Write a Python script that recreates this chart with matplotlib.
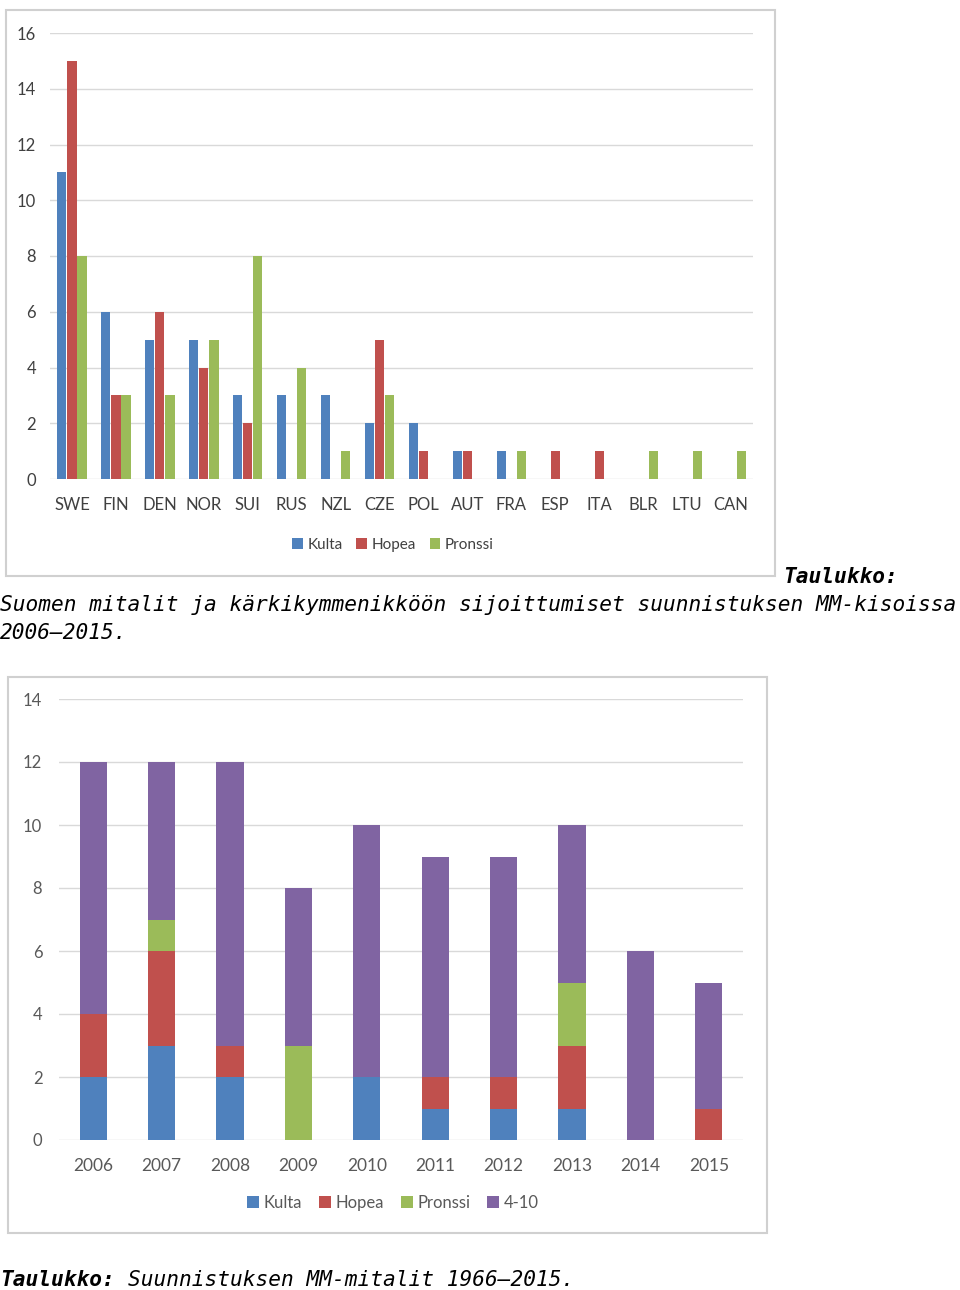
import matplotlib
matplotlib.use("Agg")
from matplotlib import pyplot as plt
from matplotlib.patches import Rectangle
import numpy as np

# chart 1: medals per country
countries = ["SWE", "FIN", "DEN", "NOR", "SUI", "RUS", "NZL", "CZE",
             "POL", "AUT", "FRA", "ESP", "ITA", "BLR", "LTU", "CAN"]
kulta = [11, 6, 5, 5, 3, 3, 3, 2, 2, 1, 1, 0, 0, 0, 0, 0]
hopea = [15, 3, 6, 4, 2, 0, 0, 5, 1, 1, 0, 1, 1, 0, 0, 0]
pronssi = [8, 3, 3, 5, 8, 4, 1, 3, 0, 0, 1, 0, 0, 1, 1, 1]

# chart 2: Finland per year
years = ["2006", "2007", "2008", "2009", "2010", "2011", "2012", "2013", "2014", "2015"]
fin_kulta = [2, 3, 2, 0, 2, 1, 1, 1, 0, 0]
fin_hopea = [2, 3, 1, 0, 0, 1, 1, 2, 0, 1]
fin_pronssi = [0, 1, 0, 3, 0, 0, 0, 2, 0, 0]
fin_top10 = [8, 5, 9, 5, 8, 7, 7, 5, 6, 4]

BLUE = "#4F81BD"
RED = "#C0504D"
GREEN = "#9BBB59"
PURPLE = "#8064A2"
GRID = "#D9D9D9"
TXT = "#595959"

W, H = 960, 1290
fig = plt.figure(figsize=(W / 100, H / 100), dpi=100)

def px_axes(x0, y0, x1, y1):
    # pixel box (top-left origin) -> figure axes
    return fig.add_axes([x0 / W, 1 - y1 / H, (x1 - x0) / W, (y1 - y0) / H])

def frame(x0, y0, x1, y1):
    fig.patches.append(Rectangle((x0 / W, 1 - y1 / H), (x1 - x0) / W, (y1 - y0) / H,
                                 transform=fig.transFigure, fill=False,
                                 edgecolor="#D0D0D0", linewidth=1.5))

def style(ax):
    for s in ax.spines.values():
        s.set_visible(False)
    ax.grid(axis="y", color=GRID, linewidth=1)
    ax.set_axisbelow(True)
    ax.tick_params(length=0, colors=TXT)

sans = ["Lato", "DejaVu Sans"]
narrow = ["Liberation Sans Narrow", "Lato", "DejaVu Sans"]

# ---- chart 1
frame(6, 10, 775, 576)
ax1 = px_axes(50, 33, 753, 479)
style(ax1)
x = np.arange(len(countries))
bw = 0.21
ax1.bar(x - 0.23, kulta, bw, color=BLUE, label="Kulta")
ax1.bar(x, hopea, bw, color=RED, label="Hopea")
ax1.bar(x + 0.23, pronssi, bw, color=GREEN, label="Pronssi")
ax1.set_xlim(-0.5, len(countries) - 0.5)
ax1.set_ylim(0, 16)
ax1.set_yticks(range(0, 17, 2))
ax1.set_xticks(x)
ax1.set_xticklabels(countries, family=narrow, fontsize=12, color="#404040")
for t in ax1.get_yticklabels():
    t.set_family(sans)
    t.set_fontsize(12)
    t.set_color("#404040")
ax1.tick_params(axis="x", pad=13)
ax1.tick_params(axis="y", pad=10)
ax1.legend(loc="center", bbox_to_anchor=(393 / W, 1 - 545 / H),
           bbox_transform=fig.transFigure, ncol=3, frameon=False,
           handlelength=0.7, handleheight=0.7, handletextpad=0.3,
           columnspacing=0.9, prop={"family": narrow, "size": 11},
           labelcolor="#404040")

# ---- chart 2
frame(8, 677, 767, 1233)
ax2 = px_axes(59, 699, 743, 1140)
style(ax2)
x2 = np.arange(len(years))
b1 = np.array(fin_kulta)
b2 = b1 + np.array(fin_hopea)
b3 = b2 + np.array(fin_pronssi)
bw2 = 0.4
ax2.bar(x2, fin_kulta, bw2, color=BLUE, label="Kulta")
ax2.bar(x2, fin_hopea, bw2, bottom=b1, color=RED, label="Hopea")
ax2.bar(x2, fin_pronssi, bw2, bottom=b2, color=GREEN, label="Pronssi")
ax2.bar(x2, fin_top10, bw2, bottom=b3, color=PURPLE, label="4-10")
ax2.set_xlim(-0.5, len(years) - 0.5)
ax2.set_ylim(0, 14)
ax2.set_yticks(range(0, 15, 2))
ax2.set_xticks(x2)
ax2.set_xticklabels(years, family=sans, fontsize=12.5)
for t in ax2.get_yticklabels():
    t.set_family(sans)
    t.set_fontsize(12)
ax2.tick_params(axis="x", pad=13)
ax2.tick_params(axis="y", pad=12)
ax2.legend(loc="center", bbox_to_anchor=(393 / W, 1 - 1203 / H),
           bbox_transform=fig.transFigure, ncol=4, frameon=False,
           handlelength=0.7, handleheight=0.7, handletextpad=0.3,
           columnspacing=1.0, prop={"family": sans, "size": 12},
           labelcolor=TXT)

# ---- captions
mono = "DejaVu Sans Mono"
fs = 15.2
fig.text(783 / W, 1 - 577 / H, "Taulukko:", family=mono, style="italic",
         weight="bold", fontsize=fs, va="center", ha="left")
fig.text(0, 1 - 605 / H,
         "Suomen mitalit ja kärkikymmenikköön sijoittumiset suunnistuksen MM-kisoissa",
         family=mono, style="italic", fontsize=fs, va="center", ha="left")
fig.text(0, 1 - 633 / H, "2006–2015.", family=mono, style="italic",
         fontsize=fs, va="center", ha="left")
fig.text(0, 1 - 1280 / H, "Taulukko:", family=mono, style="italic",
         weight="bold", fontsize=fs, va="center", ha="left")
fig.text(128 / W, 1 - 1280 / H, "Suunnistuksen MM-mitalit 1966–2015.",
         family=mono, style="italic", fontsize=fs, va="center", ha="left")

fig.savefig("out.png", dpi=100, facecolor="white")
